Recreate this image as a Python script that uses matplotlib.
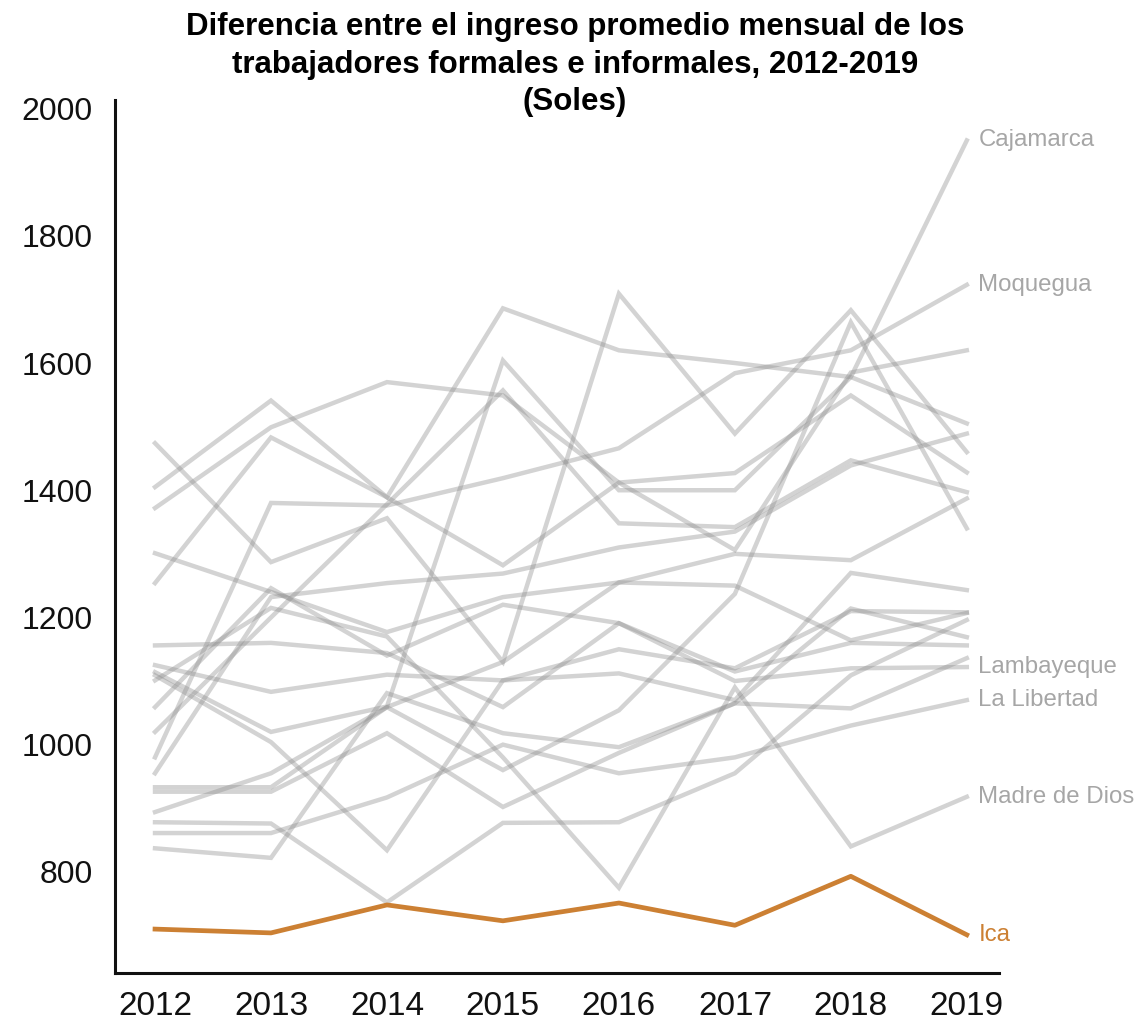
import matplotlib
matplotlib.use("Agg")
import matplotlib.pyplot as plt

plt.rcParams['font.family'] = ['Liberation Sans', 'DejaVu Sans']

years = [2012, 2013, 2014, 2015, 2016, 2017, 2018, 2019]

# Gray (context) regions, values in soles
cajamarca = [1114, 1020, 1060, 1604, 1400, 1400, 1578, 1950]
moquegua = [980, 1380, 1376, 1419, 1466, 1584, 1620, 1723]
lambayeque = [1059, 1246, 1140, 1220, 1191, 1100, 1120, 1122]
la_libertad = [861, 861, 917, 1000, 955, 980, 1030, 1070]
madre_de_dios = [1101, 1215, 1170, 980, 775, 1090, 840, 918]
region_a = [1405, 1541, 1389, 1686, 1620, 1600, 1578, 1505]
region_b = [1474, 1287, 1356, 1130, 1709, 1489, 1683, 1460]
region_c = [1372, 1499, 1570, 1549, 1412, 1427, 1549, 1428]
region_d = [1020, 1200, 1378, 1557, 1348, 1342, 1447, 1397]
region_e = [1254, 1483, 1389, 1282, 1412, 1306, 1585, 1620]
region_f = [955, 1232, 1254, 1269, 1310, 1335, 1439, 1489]
region_g = [1301, 1240, 1177, 1232, 1255, 1250, 1164, 1207]
region_h = [1156, 1160, 1144, 1059, 1191, 1115, 1160, 1156]
region_i = [1125, 1083, 1110, 1101, 1112, 1070, 1270, 1243]
region_j = [837, 822, 1081, 1018, 996, 1065, 1214, 1169]
region_k = [933, 933, 1059, 960, 1054, 1237, 1664, 1340]
region_l = [926, 926, 1018, 902, 987, 1065, 1057, 1136]
region_m = [878, 876, 752, 877, 878, 955, 1109, 1196]
region_n = [1109, 1004, 834, 1101, 1150, 1120, 1210, 1208]
region_o = [894, 955, 1059, 1130, 1255, 1300, 1290, 1387]

ica = [710, 704, 748, 723, 751, 716, 793, 701]

gray_series = [cajamarca, moquegua, lambayeque, la_libertad, madre_de_dios,
               region_a, region_b, region_c, region_d, region_e, region_f,
               region_g, region_h, region_i, region_j, region_k, region_l,
               region_m, region_n, region_o]

labels = {"Cajamarca": cajamarca, "Moquegua": moquegua, "Lambayeque": lambayeque,
          "La Libertad": la_libertad, "Madre de Dios": madre_de_dios}

title = ("Diferencia entre el ingreso promedio mensual de los\n"
         "trabajadores formales e informales, 2012-2019\n(Soles)")
y_ticks = [800, 1000, 1200, 1400, 1600, 1800, 2000]

fig = plt.figure(figsize=(11.41, 10.23), dpi=100)
ax = fig.add_axes([0.1008, 0.0489, 0.775, 0.853])

for s in gray_series:
    ax.plot(years, s, color="#8c8c8c", alpha=0.38, lw=3.2, solid_joinstyle="miter")
ax.plot(years, ica, color="#cc8033", lw=3.4)

for name, s in labels.items():
    ax.text(2019.1, s[-1], name, color="#a6a6a6", fontsize=17.3, va="center", ha="left")
ax.text(2019.1, ica[-1], "Ica", color="#cc8033", fontsize=17.3, va="center", ha="left")

ax.set_xlim(2011.655, 2019.28)
ax.set_ylim(641, 2013)
ax.set_xticks(years)
ax.set_xticklabels([str(y) for y in years])
ax.set_yticks(y_ticks)
ax.tick_params(axis="both", length=0, labelsize=23, colors="#111111")
ax.tick_params(axis="x", labelsize=24, pad=13)
ax.tick_params(axis="y", pad=16)
for sp in ["top", "right"]:
    ax.spines[sp].set_visible(False)
for sp in ["left", "bottom"]:
    ax.spines[sp].set_linewidth(2.2)
    ax.spines[sp].set_color("#111111")

fig.text(0.504, 0.988, title, ha="center", va="top", fontsize=22.5, fontweight="bold",
         linespacing=1.32)

fig.savefig("out.png", dpi=100)
